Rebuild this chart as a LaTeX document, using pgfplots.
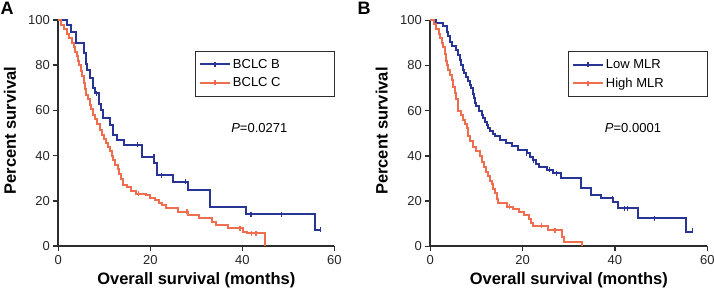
\documentclass[border=0pt]{standalone}
\usepackage{pgfplots}
\pgfplotsset{compat=1.18}
\usepackage{fontspec}
\setmainfont{Liberation Sans}
\definecolor{kmblue}{RGB}{40,52,150}
\definecolor{kmorange}{RGB}{240,110,80}
\definecolor{axgray}{RGB}{45,45,45}
\pgfplotsset{
  kmaxis/.style={
    scale only axis, width=276pt, height=226pt,
    xmin=0, xmax=60, ymin=0, ymax=100,
    axis x line*=bottom, axis y line*=left,
    axis line style={-, line width=1.8pt, axgray},
    tick align=outside, major tick length=5pt,
    tick style={line width=1.5pt, axgray},
    xtick={0,20,40,60}, ytick={0,20,40,60,80,100},
    /pgf/number format/assume math mode=true,
    tick label style={font=\fontsize{13}{15}\selectfont, text=black!85},
    xticklabel style={yshift=-1pt},
    xlabel={Overall survival (months)},
    ylabel={Percent survival},
    xlabel style={font=\bfseries\fontsize{16.5}{18}\selectfont, at={(axis description cs:0.5,-0.15)}, anchor=center},
    ylabel style={font=\bfseries\fontsize{16.5}{18}\selectfont, at={(axis description cs:-0.175,0.51)}, anchor=center},
    clip=false,
    legend style={at={(rel axis cs:1,0.864)}, anchor=north east, draw=axgray, line width=0.7pt,
      font=\fontsize{13}{15}\selectfont, inner xsep=4pt, inner ysep=6pt, row sep=4pt, cells={anchor=west}},
  },
  blueline/.style={const plot, kmblue, line width=2pt,
    legend image code/.code={\draw[kmblue,line width=2pt] (0pt,0pt)--(30pt,0pt); \draw[kmblue,line width=1.2pt] (15pt,-2.5pt)--(15pt,2.5pt);}},
  orangeline/.style={const plot, kmorange, line width=2pt,
    legend image code/.code={\draw[kmorange,line width=2pt] (0pt,0pt)--(30pt,0pt); \draw[kmorange,line width=1.2pt] (15pt,-2.5pt)--(15pt,2.5pt);}},
  bluecens/.style={only marks, mark=|, mark size=2.5pt, kmblue, line width=1.2pt, forget plot},
  orangecens/.style={only marks, mark=|, mark size=2.5pt, kmorange, line width=1.2pt, forget plot},
}
\begin{document}
\begin{tikzpicture}
\path[use as bounding box] (0,0) rectangle (714pt,294pt);
\node[anchor=north west, inner sep=0pt, font=\bfseries\fontsize{18}{20}\selectfont] at (0.5pt,292.5pt) {A};
\node[anchor=north west, inner sep=0pt, font=\bfseries\fontsize{18}{20}\selectfont] at (357.5pt,292.5pt) {B};
% Panel A
\begin{axis}[kmaxis, at={(58.3pt,48pt)}, anchor=south west]
\addplot[blueline] coordinates {
(0,100)(1.8,97.8)(2.8,94.8)(3.8,89.7)(5.5,85.3)(6.0,80.5)(6.3,78)(6.9,74.2)(7.5,70)(8.0,67.6)
(8.9,63)(9.2,60)(9.8,56.5)(11.3,53.5)(12.0,49.1)(12.8,46.9)(14.2,44.7)(18.2,39.5)(20.9,36.7)
(21.5,31.4)(25.0,28.5)(28.3,24.6)(32.9,17.4)(40.7,14.0)(55.8,7.0)(57.0,7.0)};
\addlegendentry{\makebox[95pt][l]{BCLC B}}
\addplot[orangeline] coordinates {
(0,100)(0.6,98)(1.2,96)(1.8,94)(2.3,92)(2.9,90)(3.4,88)(3.7,86)(4.0,84)(4.3,82)(4.6,80)(4.9,77.5)
(5.2,75)(5.5,72)(5.8,69.5)(6.1,67)(6.4,65)(6.8,62.5)(7.2,60.5)(7.6,58)(8.0,56)(8.5,54)(9.0,51.5)
(9.5,49)(10.0,47.5)(10.4,45.5)(10.8,44)(11.2,42)(11.6,40)(12.0,38)(12.4,36)(12.9,34)(13.3,32)
(13.6,29.5)(14.0,27)(15.0,26)(15.8,24.5)(17.0,23.2)(19.0,22.5)(20.0,21.3)(21.0,20.2)(21.8,19)
(22.5,18)(23.5,16.8)(26.0,15.2)(28.3,13.7)(30.5,12.2)(33.5,10.8)(34.3,9.4)(36.8,7.8)(40.2,6.2)
(41.0,5.6)(44.9,0)};
\addlegendentry{\makebox[95pt][l]{BCLC C}}
\addplot[bluecens] coordinates {(8.3,67.6)(17.2,44.7)(20.8,39.5)(22.5,31.4)(27.6,28.5)(41.9,14.0)(48.5,14.0)(57,7.5)};
\addplot[orangecens] coordinates {(17.5,23.2)(28.0,15.2)(39.5,7.8)(42.0,5.6)(43.0,5.6)};
\node[font=\fontsize{13}{15}\selectfont] at (axis cs:43.7,52.2) {\textit{P}=0.0271};
\end{axis}
% Panel B
\begin{axis}[kmaxis, width=277pt, at={(430.3pt,47.7pt)}, anchor=south west]
\addplot[blueline] coordinates {
(0,100)(1.3,99)(2.8,97.3)(3.6,95)(3.9,93)(4.3,90.5)(4.6,88.5)(5.5,87)(6.1,84.5)(6.4,82.6)(6.7,80)
(7.0,78)(7.4,76.7)(7.8,75)(8.1,73)(8.5,71.5)(8.9,70)(9.2,67.5)(9.4,65.6)(9.7,63.5)(10.0,61.9)
(10.6,59.7)(11.2,58)(11.5,56.7)(11.9,55)(12.2,53.8)(12.6,52.5)(12.9,50.8)(13.6,49.5)(14.1,48.6)
(15.0,47.1)(16.4,45.6)(17.6,44.2)(19.0,42.7)(21.0,41.2)(21.6,39.5)(22.2,38)(22.8,36.5)(23.6,35)
(25.2,33.8)(26.6,32.4)(28.4,30.1)(32.7,25.7)(34.9,22.7)(37.0,21.3)(39.5,19.8)(40.6,16.8)
(44.9,12.4)(55.4,6.5)(56.8,6.5)};
\addlegendentry{\makebox[95pt][l]{Low MLR}}
\addplot[orangeline] coordinates {
(0,100)(0.8,98.5)(1.3,96)(1.8,94)(2.2,92)(2.5,90)(2.8,88)(3.1,85)(3.4,82)(3.7,80)(3.9,78)(4.3,76)
(4.7,73.5)(5.0,70.7)(5.3,68)(5.6,65)(5.9,62)(6.1,59.7)(6.6,58)(7.1,56)(7.5,54)(7.9,52.3)(8.2,48.6)
(8.7,46.5)(9.2,44.1)(10.0,42)(10.7,40)(11.1,37.5)(11.6,35.3)(12.0,33)(12.4,31)(12.9,29)(13.3,27.5)
(13.6,25.5)(14.0,23.5)(14.4,21)(14.7,19)(16.6,17.5)(18.0,16.5)(19.2,15.2)(20.3,13.9)(21.4,12)
(21.9,10.5)(22.2,9.0)(25.6,7.0)(28.6,4.3)(29.0,2.0)(32.9,0)};
\addlegendentry{\makebox[95pt][l]{High MLR}}
\addplot[bluecens] coordinates {(20.9,41.2)(22.4,38)(25.8,33.8)(27.3,32.4)(39.5,21.3)(42.0,16.8)(42.8,16.8)(48.5,12.4)(56.8,7.0)};
\addplot[orangecens] coordinates {(17.2,17.5)(24.0,9.0)(27.0,7.0)};
\node[font=\fontsize{13}{15}\selectfont] at (axis cs:43.9,52.2) {\textit{P}=0.0001};
\end{axis}
\end{tikzpicture}
\end{document}
